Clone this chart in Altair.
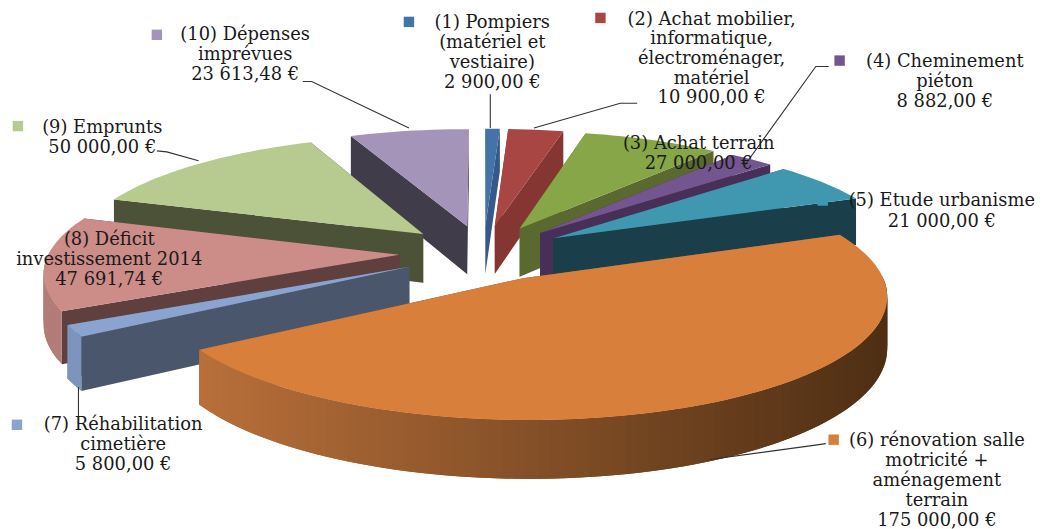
import math
import altair as alt
import pandas as pd

values = [2900.00, 10900.00, 27000.00, 8882.00, 21000.00, 175000.00, 5800.00, 47691.74, 50000.00, 23613.48]
top_colors = ["#4473a8", "#a84644", "#86a648", "#73558f", "#4097b0", "#d77f3b", "#8aa3cf", "#cc8c88", "#b7ca8f", "#a594b9"]
wall_colors = ["#35598a", "#853532", "#59692f", "#472f58", "#1a3e4a", "#8a5426", "#4a566b", "#5f403f", "#4b5237", "#403c49"]
rim_colors = ["#35598a", "#853532", "#6b8a38", "#5a4070", "#2f7488", "#b06c33", "#7d95bd", "#b27c78", "#8fa26c", "#7d7090"]
draw_order = [9, 0, 1, 2, 3, 4, 8, 7, 6, 5]

label_lines = [
    ["(1) Pompiers", "(matériel et", "vestiaire)", "2 900,00 €"],
    ["(2) Achat mobilier,", "informatique,", "électroménager,", "matériel", "10 900,00 €"],
    ["(3) Achat terrain", "27 000,00 €"],
    ["(4) Cheminement", "piéton", "8 882,00 €"],
    ["(5) Etude urbanisme", "21 000,00 €"],
    ["(6) rénovation salle", "motricité +", "aménagement", "terrain", "175 000,00 €"],
    ["(7) Réhabilitation", "cimetière", "5 800,00 €"],
    ["(8) Déficit", "investissement 2014", "47 691,74 €"],
    ["(9) Emprunts", "50 000,00 €"],
    ["(10) Dépenses", "imprévues", "23 613,48 €"],
]
label_x = [496, 717, 704, 952, 949, 944, 124, 110, 103, 247]
label_y = [21, 18, 143, 60, 201, 442, 426, 240, 127, 33]
label_step = [20.2, 19.7, 20.2, 20.2, 20.2, 20.2, 20.2, 20.2, 20.2, 20.2]
key_x = [412, 605, None, 846, 829, 840, 17, None, 18, 158]
key_y = [20, 16, None, 59, 200, 441, 426, None, 125, 33]
leaders = [
    [(494, 93), (494, 127)],
    [(642, 102), (625, 102), (538, 127)],
    [(835, 65), (822, 65), (750, 165)],
    [(832, 445), (818, 447), (715, 461)],
    [(79, 420), (79, 388)],
    [(158, 150), (168, 151), (200, 160)],
    [(305, 80), (314, 80), (412, 127)],
]

CX, CY, A, B, K, E, DEPTH = 487, 252.6, 353, 117, 0.13, 0.24, 50


def project(u, v, drop=0.0):
    s = 1 / (1 - K * v)
    return CX + A * u * s, CY + B * v * s + drop * s


def at(theta):
    return math.sin(theta), -math.cos(theta)


total = sum(values)
starts = []
acc = 0.0
for val in values:
    starts.append(acc / total * 2 * math.pi)
    acc += val

rows = []
pid = 0


def polygon(points, color):
    global pid
    for i, (x, y) in enumerate(points):
        rows.append({"poly": pid, "i": i, "x": x, "y": y, "c": color})
    pid += 1


def hex_mix(c1, c2, t):
    a = [int(c1[i:i + 2], 16) for i in (1, 3, 5)]
    b = [int(c2[i:i + 2], 16) for i in (1, 3, 5)]
    return "#%02x%02x%02x" % tuple(round(p + (q - p) * t) for p, q in zip(a, b))


for n in draw_order:
    t0 = starts[n]
    t1 = t0 + values[n] / total * 2 * math.pi
    um, vm = at((t0 + t1) / 2)
    ax, ay = E * um, E * vm
    steps = max(4, int((t1 - t0) / 0.03))
    ts = [t0 + (t1 - t0) * j / steps for j in range(steps + 1)]
    edge = [(ax + at(t)[0], ay + at(t)[1]) for t in ts]
    # radial walls
    for pu, pv in (edge[0], edge[-1]):
        polygon([project(ax, ay), project(pu, pv), project(pu, pv, DEPTH), project(ax, ay, DEPTH)], wall_colors[n])
    # outer rim: only the part that faces the viewer, each piece overlapping the next
    for j in range(steps):
        if at(ts[j])[1] <= 0 and at(ts[j + 1])[1] <= 0:
            continue
        p, q = edge[j], edge[min(j + 2, steps)]
        frac = 1 - (project(*p)[0] - 200) / 690
        col = hex_mix("#4f2f14", "#b9703a", max(0, min(1, frac))) if n == 5 else rim_colors[n]
        polygon([project(*p), project(*q), project(*q, DEPTH), project(*p, DEPTH)], col)
    # top face
    polygon([project(ax, ay)] + [project(*p) for p in edge], top_colors[n])

shapes = pd.DataFrame(rows)

text_rows = []
for n, lines in enumerate(label_lines):
    for j, line in enumerate(lines):
        text_rows.append({"t": line, "x": label_x[n], "y": label_y[n] + j * label_step[n]})
texts = pd.DataFrame(text_rows)

keys = pd.DataFrame([{"x": x, "y": y, "c": c} for x, y, c in zip(key_x, key_y, top_colors) if x is not None])
lead = pd.DataFrame([{"l": n, "i": i, "x": p[0], "y": p[1]} for n, pts in enumerate(leaders) for i, p in enumerate(pts)])

W, H = 1048, 521
xs = alt.Scale(domain=[8, 8 + W], range=[0, W], nice=False, zero=False)
ys = alt.Scale(domain=[8, 8 + H], range=[0, H], nice=False, zero=False)
X = alt.X("x:Q", scale=xs, axis=None)
Y = alt.Y("y:Q", scale=ys, axis=None)

polys = alt.Chart(shapes).mark_line(filled=True, strokeWidth=0).encode(
    x=X, y=Y,
    detail="poly:N",
    order="i:Q",
    fill=alt.Fill("c:N", scale=None),
)
leader_lines = alt.Chart(lead).mark_line(color="#333333", strokeWidth=1.1).encode(x=X, y=Y, detail="l:N", order="i:Q")
key_marks = alt.Chart(keys).mark_square(size=110, opacity=1, filled=True).encode(
    x=X, y=Y, fill=alt.Fill("c:N", scale=None), stroke=alt.value(None)
)
labels = alt.Chart(texts).mark_text(font="DejaVu Serif", fontSize=18, color="#1a1a1a", align="center", baseline="middle").encode(
    x=X, y=Y, text="t:N"
)

chart = alt.layer(polys, leader_lines, key_marks, labels).properties(
    width=W, height=H, padding=0, autosize=alt.AutoSizeParams(type="none"), background="white"
).configure_view(stroke=None)

chart.save("out.html", embed_options={"renderer": "svg", "actions": False})
